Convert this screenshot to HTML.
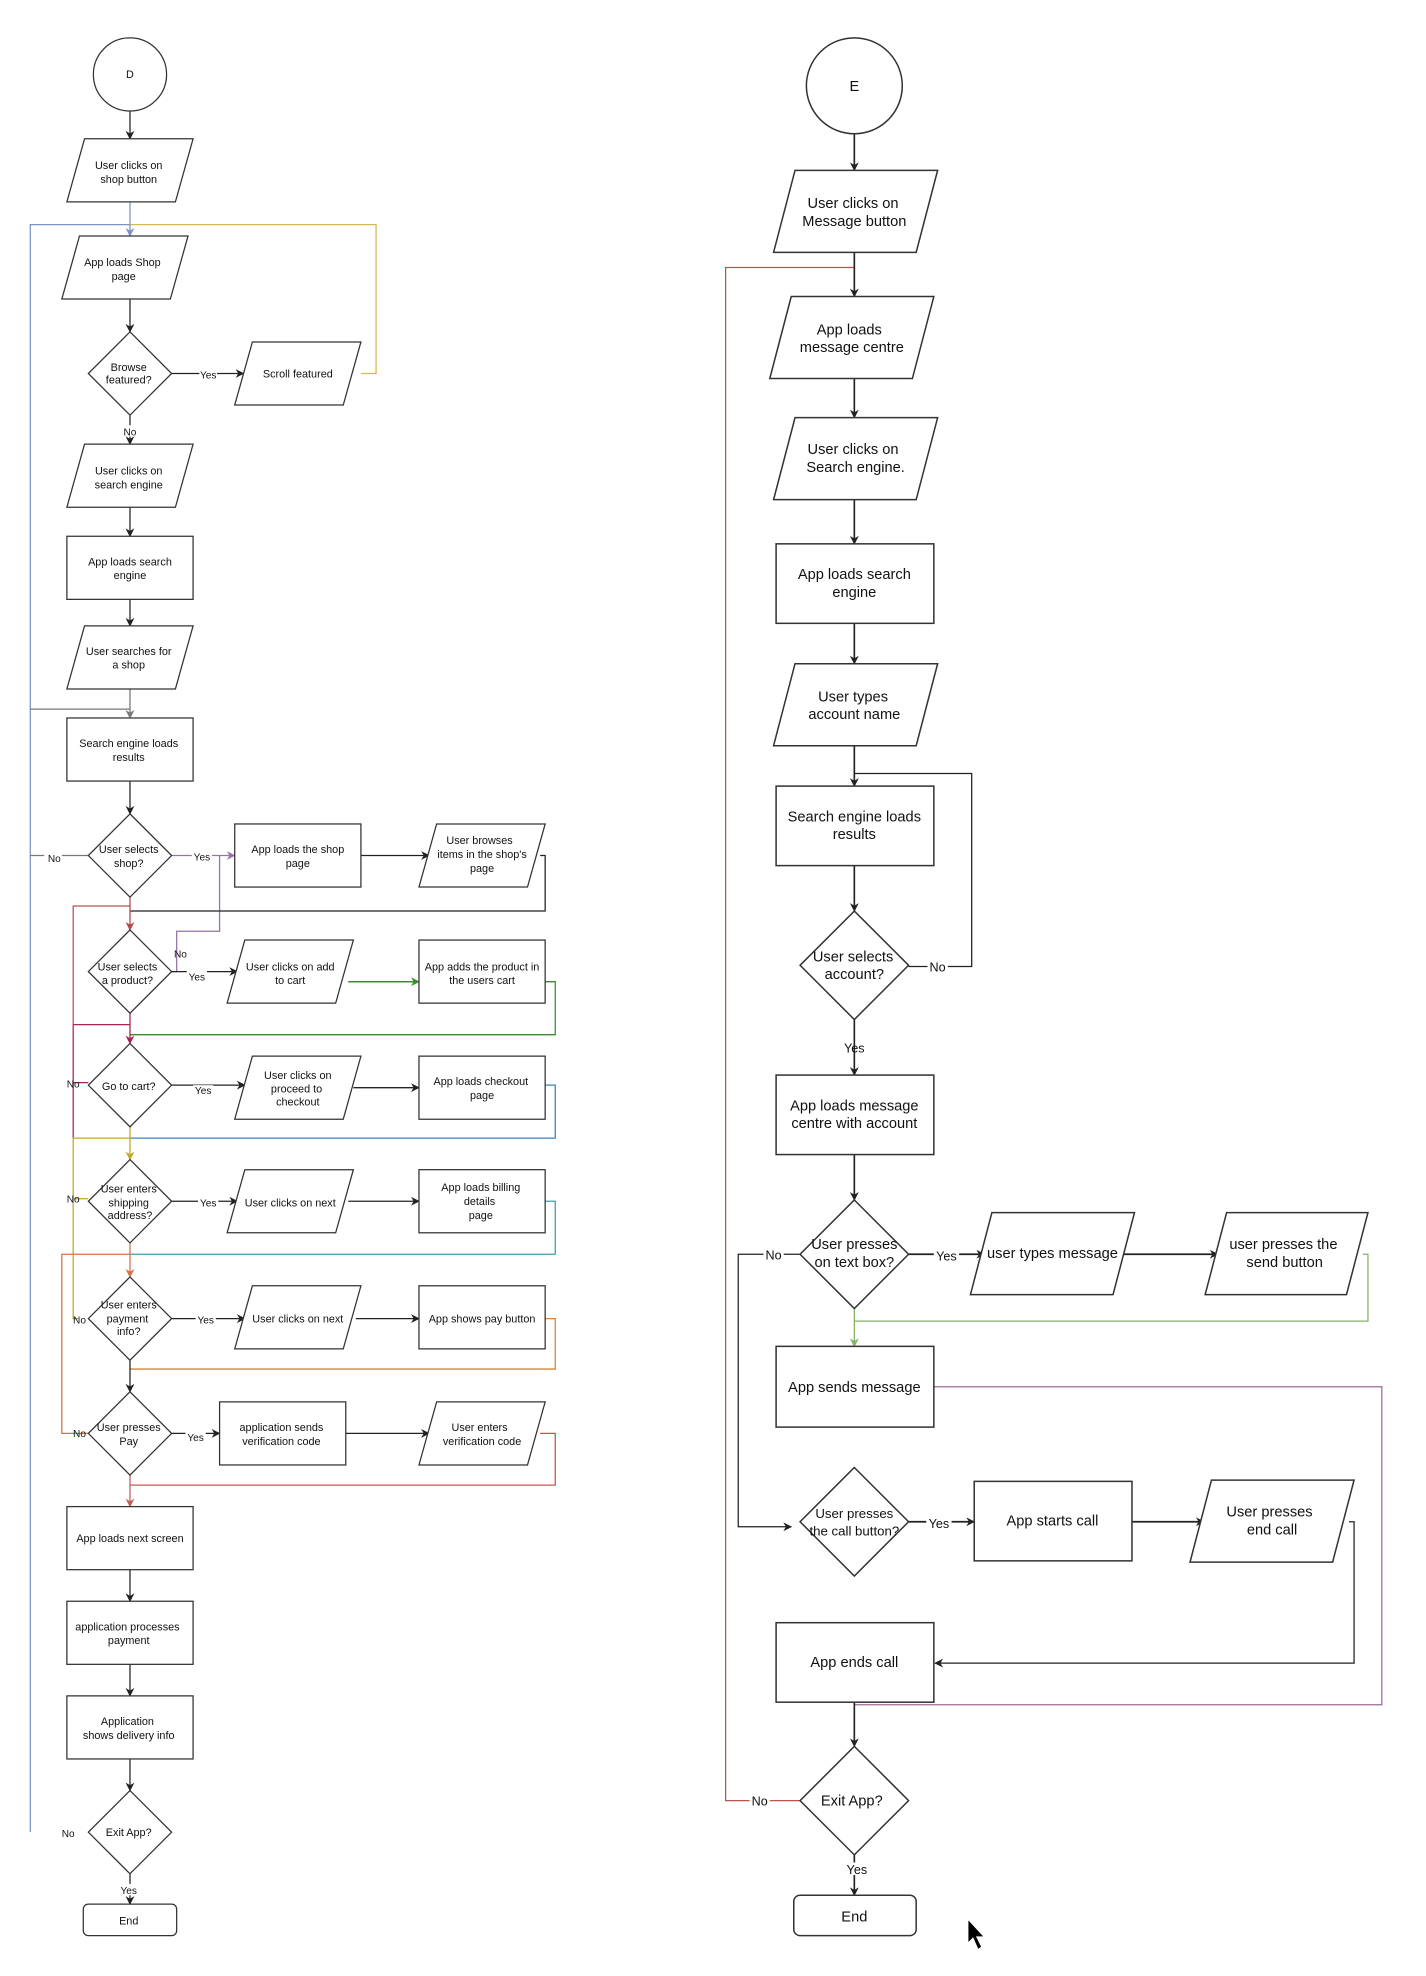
<!DOCTYPE html>
<html><head><meta charset="utf-8"><style>
html,body{margin:0;padding:0;background:#fff;}
svg{display:block;}
text{font-family:"Liberation Sans",sans-serif;fill:#111;}
.s{font-size:8.6px;}
.b{font-size:11.6px;}
.l{font-size:8px;}
</style></head><body>
<svg width="1426" height="1976" viewBox="0 0 1130 1566" preserveAspectRatio="none" xmlns="http://www.w3.org/2000/svg">
<defs>
<marker id="a" viewBox="0 0 10 10" refX="9" refY="5" markerWidth="7" markerHeight="7" orient="auto-start-reverse" markerUnits="userSpaceOnUse"><path d="M0,0 L10,5 L0,10 L3,5 z" fill="context-stroke" stroke="none"/></marker>
</defs>
<g fill="none" stroke-width="1">
<!-- LEFT colored loops -->
<polyline points="24,1452 24,178 103,178" stroke="#7b93c8"/>
<polyline points="286,296 298,296 298,178 103,178" stroke="#d6b656"/>
<polyline points="24,562 103,562" stroke="#777"/>
<polyline points="24,678 70,678" stroke="#777"/>
<polyline points="136,678 174,678 174,738 140,738 140,770 136,770" stroke="#9673a6"/>
<polyline points="428,678 432,678 432,722 103,722" stroke="#222"/>
<polyline points="103,718 58,718 58,812" stroke="#c0504d"/>
<polyline points="58,812 103,812" stroke="#a8234f"/>
<polyline points="58,858 70,858" stroke="#a8234f"/>
<polyline points="58,812 58,902" stroke="#a8234f"/>
<polyline points="276,778 440,778 440,820 103,820" stroke="#3a8a2f"/>
<polyline points="432,860 440,860 440,902 103,902" stroke="#3b82c4"/>
<polyline points="62,1045 58,1045 58,902 103,902" stroke="#c4a823"/>
<polyline points="58,950 70,950" stroke="#c4a823"/>
<polyline points="432,952 440,952 440,994 103,994" stroke="#3aa0b0"/>
<polyline points="70,1136 49,1136 49,994 103,994" stroke="#d9704a"/>
<polyline points="432,1045 440,1045 440,1085 103,1085" stroke="#d9822b"/>
<polyline points="428,1136 440,1136 440,1177 103,1177" stroke="#d05050"/>
<!-- LEFT arrows -->
<g stroke="#222">
<line x1="103" y1="88" x2="103" y2="110" marker-end="url(#a)"/>
<line x1="103" y1="160" x2="103" y2="187" marker-end="url(#a)" stroke="#7b93c8"/>
<line x1="103" y1="237" x2="103" y2="263" marker-end="url(#a)"/>
<line x1="136" y1="296" x2="193" y2="296" marker-end="url(#a)"/>
<line x1="103" y1="329" x2="103" y2="352" marker-end="url(#a)"/>
<line x1="103" y1="402" x2="103" y2="425" marker-end="url(#a)"/>
<line x1="103" y1="475" x2="103" y2="496" marker-end="url(#a)"/>
<line x1="103" y1="546" x2="103" y2="569" marker-end="url(#a)" stroke="#777"/>
<line x1="103" y1="619" x2="103" y2="645" marker-end="url(#a)"/>
<line x1="174" y1="678" x2="186" y2="678" marker-end="url(#a)" stroke="#9673a6"/>
<line x1="286" y1="678" x2="340" y2="678" marker-end="url(#a)"/>
<line x1="103" y1="711" x2="103" y2="737" marker-end="url(#a)" stroke="#b04848"/>
<line x1="136" y1="770" x2="188" y2="770" marker-end="url(#a)"/>
<line x1="276" y1="778" x2="332" y2="778" marker-end="url(#a)" stroke="#3a8a2f"/>
<line x1="103" y1="803" x2="103" y2="827" marker-end="url(#a)" stroke="#a8234f"/>
<line x1="136" y1="860" x2="194" y2="860" marker-end="url(#a)"/>
<line x1="280" y1="862" x2="332" y2="862" marker-end="url(#a)"/>
<line x1="103" y1="893" x2="103" y2="919" marker-end="url(#a)" stroke="#c4a823"/>
<line x1="136" y1="952" x2="188" y2="952" marker-end="url(#a)"/>
<line x1="276" y1="952" x2="332" y2="952" marker-end="url(#a)"/>
<line x1="103" y1="985" x2="103" y2="1012" marker-end="url(#a)" stroke="#d9704a"/>
<line x1="136" y1="1045" x2="194" y2="1045" marker-end="url(#a)"/>
<line x1="282" y1="1045" x2="332" y2="1045" marker-end="url(#a)"/>
<line x1="103" y1="1078" x2="103" y2="1103" marker-end="url(#a)"/>
<line x1="136" y1="1136" x2="174" y2="1136" marker-end="url(#a)"/>
<line x1="274" y1="1136" x2="340" y2="1136" marker-end="url(#a)"/>
<line x1="103" y1="1169" x2="103" y2="1194" marker-end="url(#a)" stroke="#c06060"/>
<line x1="103" y1="1244" x2="103" y2="1269" marker-end="url(#a)"/>
<line x1="103" y1="1319" x2="103" y2="1344" marker-end="url(#a)"/>
<line x1="103" y1="1394" x2="103" y2="1419" marker-end="url(#a)"/>
<line x1="103" y1="1485" x2="103" y2="1509" marker-end="url(#a)"/>
</g>
<!-- LEFT shapes -->
<g stroke="#333" fill="#fff">
<circle cx="103" cy="59" r="29"/>
<polygon points="67,110 153,110 139,160 53,160"/>
<polygon points="63,187 149,187 135,237 49,237"/>
<polygon points="103,263 136,296 103,329 70,296"/>
<polygon points="200,271 286,271 272,321 186,321"/>
<polygon points="67,352 153,352 139,402 53,402"/>
<rect x="53" y="425" width="100" height="50"/>
<polygon points="67,496 153,496 139,546 53,546"/>
<rect x="53" y="569" width="100" height="50"/>
<polygon points="103,645 136,678 103,711 70,678"/>
<rect x="186" y="653" width="100" height="50"/>
<polygon points="346,653 432,653 418,703 332,703"/>
<polygon points="103,737 136,770 103,803 70,770"/>
<polygon points="194,745 280,745 266,795 180,795"/>
<rect x="332" y="745" width="100" height="50"/>
<polygon points="103,827 136,860 103,893 70,860"/>
<polygon points="200,837 286,837 272,887 186,887"/>
<rect x="332" y="837" width="100" height="50"/>
<polygon points="103,919 136,952 103,985 70,952"/>
<polygon points="194,927 280,927 266,977 180,977"/>
<rect x="332" y="927" width="100" height="50"/>
<polygon points="103,1012 136,1045 103,1078 70,1045"/>
<polygon points="200,1019 286,1019 272,1069 186,1069"/>
<rect x="332" y="1019" width="100" height="50"/>
<polygon points="103,1103 136,1136 103,1169 70,1136"/>
<rect x="174" y="1111" width="100" height="50"/>
<polygon points="346,1111 432,1111 418,1161 332,1161"/>
<rect x="53" y="1194" width="100" height="50"/>
<rect x="53" y="1269" width="100" height="50"/>
<rect x="53" y="1344" width="100" height="50"/>
<polygon points="103,1419 136,1452 103,1485 70,1452"/>
<rect x="66" y="1509" width="74" height="25" rx="4"/>
</g>
<!-- RIGHT lines -->
<polyline points="635,1427 575,1427 575,212 677,212" stroke="#c0504d"/>
<polyline points="677,613 770,613 770,766 720,766" stroke="#222"/>
<polyline points="634,994 585,994 585,1210 627,1210" stroke="#222" marker-end="url(#a)"/>
<polyline points="1080,994 1084,994 1084,1047 677,1047" stroke="#82b366"/>
<polyline points="740,1099 1095,1099 1095,1351 677,1351" stroke="#a06a9a"/>
<polyline points="1069,1206 1073,1206 1073,1318 741,1318" stroke="#222" marker-end="url(#a)"/>
<g stroke="#222" stroke-width="1.3">
<line x1="677" y1="106" x2="677" y2="135" marker-end="url(#a)"/>
<line x1="677" y1="200" x2="677" y2="235" marker-end="url(#a)"/>
<line x1="677" y1="300" x2="677" y2="331" marker-end="url(#a)"/>
<line x1="677" y1="396" x2="677" y2="431" marker-end="url(#a)"/>
<line x1="677" y1="494" x2="677" y2="526" marker-end="url(#a)"/>
<line x1="677" y1="591" x2="677" y2="623" marker-end="url(#a)"/>
<line x1="677" y1="686" x2="677" y2="722" marker-end="url(#a)"/>
<line x1="677" y1="808" x2="677" y2="852" marker-end="url(#a)"/>
<line x1="677" y1="915" x2="677" y2="951" marker-end="url(#a)"/>
<line x1="720" y1="994" x2="780" y2="994" marker-end="url(#a)"/>
<line x1="887" y1="994" x2="965" y2="994" marker-end="url(#a)"/>
<line x1="677" y1="1037" x2="677" y2="1067" marker-end="url(#a)" stroke="#82b366" stroke-width="1"/>
<line x1="720" y1="1206" x2="772" y2="1206" marker-end="url(#a)"/>
<line x1="897" y1="1206" x2="954" y2="1206" marker-end="url(#a)"/>
<line x1="677" y1="1349" x2="677" y2="1384" marker-end="url(#a)"/>
<line x1="677" y1="1470" x2="677" y2="1502" marker-end="url(#a)"/>
</g>
<g stroke="#333" stroke-width="1.2" fill="#fff">
<circle cx="677" cy="68" r="38"/>
<polygon points="630,135 743,135 726,200 613,200"/>
<polygon points="627,235 740,235 723,300 610,300"/>
<polygon points="630,331 743,331 726,396 613,396"/>
<rect x="615" y="431" width="125" height="63"/>
<polygon points="630,526 743,526 726,591 613,591"/>
<rect x="615" y="623" width="125" height="63"/>
<polygon points="677,722 720,765 677,808 634,765"/>
<rect x="615" y="852" width="125" height="63"/>
<polygon points="677,951 720,994 677,1037 634,994"/>
<polygon points="786,961 899,961 882,1026 769,1026"/>
<polygon points="972,961 1084,961 1067,1026 955,1026"/>
<rect x="615" y="1067" width="125" height="64"/>
<polygon points="677,1163 720,1206 677,1249 634,1206"/>
<rect x="772" y="1174" width="125" height="63"/>
<polygon points="960,1173 1073,1173 1056,1238 943,1238"/>
<rect x="615" y="1286" width="125" height="63"/>
<polygon points="677,1384 720,1427 677,1470 634,1427"/>
<rect x="629" y="1502" width="97" height="32" rx="5"/>
</g>
<path d="M767,1521 L767,1540 L771,1536 L775,1545 L778,1543 L774,1535 L780,1535 Z" fill="#000" stroke="#fff" stroke-width="0.8"/>
</g>
<!-- label backgrounds + labels -->
<g class="l" text-anchor="middle">
<rect x="158" y="292" width="14" height="9" fill="#fff"/><text x="165" y="300">Yes</text>
<rect x="96" y="337" width="14" height="9" fill="#fff"/><text x="103" y="345">No</text>
<rect x="35" y="675" width="14" height="9" fill="#fff"/><text x="43" y="683">No</text>
<rect x="152" y="674" width="16" height="9" fill="#fff"/><text x="160" y="682">Yes</text>
<text x="143" y="759">No</text>
<rect x="148" y="769" width="16" height="9" fill="#fff"/><text x="156" y="777">Yes</text>
<text x="58" y="862">No</text>
<rect x="153" y="860" width="16" height="9" fill="#fff"/><text x="161" y="867">Yes</text>
<text x="58" y="953">No</text>
<rect x="157" y="949" width="16" height="9" fill="#fff"/><text x="165" y="956">Yes</text>
<text x="63" y="1049">No</text>
<rect x="155" y="1042" width="16" height="9" fill="#fff"/><text x="163" y="1049">Yes</text>
<text x="63" y="1139">No</text>
<rect x="147" y="1134" width="16" height="9" fill="#fff"/><text x="155" y="1142">Yes</text>
<rect x="46" y="1448" width="16" height="9" fill="#fff"/><text x="54" y="1456">No</text>
<rect x="94" y="1493" width="16" height="9" fill="#fff"/><text x="102" y="1501">Yes</text>
</g>
<g class="s" text-anchor="middle">
<text x="103" y="62">D</text>
<text x="102" y="134">User clicks on</text><text x="102" y="145">shop button</text>
<text x="97" y="211">App loads Shop</text><text x="98" y="222">page</text>
<text x="102" y="294">Browse</text><text x="102" y="304">featured?</text>
<text x="236" y="299">Scroll featured</text>
<text x="102" y="376">User clicks on</text><text x="102" y="387">search engine</text>
<text x="103" y="448">App loads search</text><text x="103" y="459">engine</text>
<text x="102" y="519">User searches for</text><text x="102" y="530">a shop</text>
<text x="102" y="592">Search engine loads</text><text x="102" y="603">results</text>
<text x="102" y="676">User selects</text><text x="102" y="687">shop?</text>
<text x="236" y="676">App loads the shop</text><text x="236" y="687">page</text>
<text x="380" y="669">User browses</text><text x="382" y="680">items in the shop's</text><text x="382" y="691">page</text>
<text x="101" y="769">User selects</text><text x="101" y="780">a product?</text>
<text x="230" y="769">User clicks on add</text><text x="230" y="780">to cart</text>
<text x="382" y="769">App adds the product in</text><text x="382" y="780">the users cart</text>
<text x="102" y="864">Go to cart?</text>
<text x="236" y="855">User clicks on</text><text x="235" y="866">proceed to</text><text x="236" y="876">checkout</text>
<text x="381" y="860">App loads checkout</text><text x="382" y="871">page</text>
<text x="102" y="945">User enters</text><text x="102" y="956">shipping</text><text x="103" y="966">address?</text>
<text x="230" y="956">User clicks on next</text>
<text x="381" y="944">App loads billing</text><text x="380" y="955">details</text><text x="381" y="966">page</text>
<text x="102" y="1037">User enters</text><text x="101" y="1048">payment</text><text x="102" y="1058">info?</text>
<text x="236" y="1048">User clicks on next</text>
<text x="382" y="1048">App shows pay button</text>
<text x="102" y="1134">User presses</text><text x="102" y="1145">Pay</text>
<text x="223" y="1134">application sends</text><text x="223" y="1145">verification code</text>
<text x="380" y="1134">User enters</text><text x="382" y="1145">verification code</text>
<text x="103" y="1222">App loads next screen</text>
<text x="101" y="1292">application processes</text><text x="102" y="1303">payment</text>
<text x="101" y="1367">Application</text><text x="102" y="1378">shows delivery info</text>
<text x="102" y="1455">Exit App?</text>
<text x="102" y="1525">End</text>
</g>
<g class="l" text-anchor="middle" style="font-size:10px">
<rect x="735" y="761" width="16" height="10" fill="#fff"/><text x="743" y="770">No</text>
<text x="677" y="834">Yes</text>
<rect x="605" y="989" width="16" height="10" fill="#fff"/><text x="613" y="998">No</text>
<rect x="740" y="990" width="20" height="10" fill="#fff"/><text x="750" y="999">Yes</text>
<rect x="734" y="1202" width="20" height="10" fill="#fff"/><text x="744" y="1211">Yes</text>
<rect x="594" y="1422" width="16" height="10" fill="#fff"/><text x="602" y="1431">No</text>
<rect x="668" y="1476" width="22" height="10" fill="#fff"/><text x="679" y="1485">Yes</text>
</g>
<g class="b" text-anchor="middle">
<text x="677" y="72">E</text>
<text x="676" y="165">User clicks on</text><text x="677" y="179">Message button</text>
<text x="673" y="265">App loads</text><text x="675" y="279">message centre</text>
<text x="676" y="360">User clicks on</text><text x="678" y="374">Search engine.</text>
<text x="677" y="459">App loads search</text><text x="677" y="473">engine</text>
<text x="676" y="556">User types</text><text x="677" y="570">account name</text>
<text x="677" y="651">Search engine loads</text><text x="677" y="665">results</text>
<text x="676" y="762">User selects</text><text x="677" y="776">account?</text>
<text x="677" y="880">App loads message</text><text x="677" y="894">centre with account</text>
<text x="677" y="990">User presses</text><text x="677" y="1004">on text box?</text>
<text x="834" y="997">user types message</text>
<text x="1017" y="990">user presses the</text><text x="1018" y="1004">send button</text>
<text x="677" y="1103">App sends message</text>
<text x="677" y="1203" style="font-size:10.5px">User presses</text><text x="677" y="1217" style="font-size:10.5px">the call button?</text>
<text x="834" y="1209">App starts call</text>
<text x="1006" y="1202">User presses</text><text x="1008" y="1216">end call</text>
<text x="677" y="1321">App ends call</text>
<text x="675" y="1431">Exit App?</text>
<text x="677" y="1523">End</text>
</g>
</svg>
</body></html>
